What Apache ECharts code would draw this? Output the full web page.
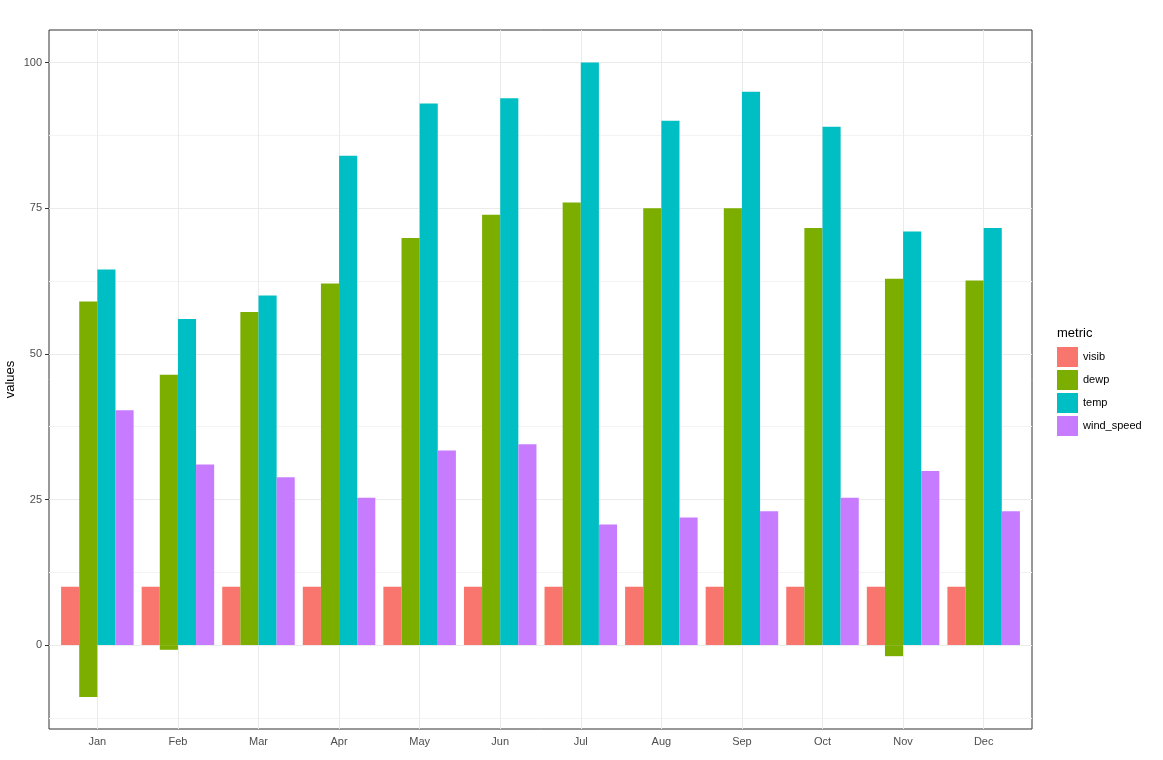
<!DOCTYPE html>
<html>
<head>
<meta charset="utf-8">
<script src="https://cdn.jsdelivr.net/npm/echarts@6/dist/echarts.min.js"></script>
<style>
  html, body { margin: 0; padding: 0; background: #fff; }
  #chart { width: 1163px; height: 760px; }
</style>
</head>
<body>
<div id="chart"></div>
<script>
// monthly weather metrics
const months = ["Jan", "Feb", "Mar", "Apr", "May", "Jun", "Jul", "Aug", "Sep", "Oct", "Nov", "Dec"];
const visib = [10, 10, 10, 10, 10, 10, 10, 10, 10, 10, 10, 10];
const dewp = [59.0, 46.4, 57.2, 62.1, 69.9, 73.9, 76.0, 75.0, 75.0, 71.6, 62.9, 62.6];
const dewpLow = [-8.9, -0.8, null, null, null, null, null, null, null, null, -1.9, null];
const temp = [64.5, 56.0, 60.0, 84.0, 93.0, 93.9, 100.0, 90.0, 95.0, 89.0, 71.0, 71.6];
const windSpeed = [40.3, 31.0, 28.8, 25.3, 33.4, 34.5, 20.7, 21.9, 23.0, 25.3, 29.9, 23.0];

const yTicks = [0, 25, 50, 75, 100];
const yGrid = [-12.5, 12.5, 37.5, 62.5, 87.5];
const yMin = -14.4;
const yMax = 105.6;

const colors = {
  visib: "#F8766D",
  dewp: "#7CAE00",
  temp: "#00BFC4",
  wind_speed: "#C77CFF",
};

const font = "Liberation Sans, Arial, sans-serif";

const chart = echarts.init(document.getElementById("chart"));

// panel is 49..1032; categories run 0.4..12.6 like ggplot's discrete expansion,
// so the first band starts 0.1 band in from the panel edge
const panel = { left: 49, top: 30, width: 983, height: 699 };
const band = panel.width / 12.2;

const gridLines = (values, color) =>
  values.map((v) => ({ yAxis: v, lineStyle: { color: color, width: 1, type: "solid" } }));

const barSeries = (name, data, stack) => ({
  name: name,
  type: "bar",
  xAxisIndex: 1,
  yAxisIndex: 1,
  data: data,
  stack: stack,
  barGap: "0%",
  barCategoryGap: "10%",
  itemStyle: { color: colors[stack || name] },
  z: 3,
});

chart.setOption({
  animation: false,
  textStyle: { fontFamily: font },
  title: {
    text: "metric",
    left: 1052,
    top: 322,
    textStyle: { fontSize: 13, fontWeight: "normal", color: "#000", fontFamily: font },
  },
  legend: {
    orient: "vertical",
    left: 1052,
    top: 342,
    itemWidth: 21,
    itemHeight: 20,
    itemGap: 3,
    icon: "rect",
    data: ["visib", "dewp", "temp", "wind_speed"],
    textStyle: { fontSize: 11, color: "#000", fontFamily: font },
  },
  grid: [
    {
      left: panel.left, top: panel.top, width: panel.width, height: panel.height,
      outerBoundsMode: "none",
      show: true, backgroundColor: "#fff", borderColor: "#333", borderWidth: 1,
    },
    {
      left: panel.left + band * 0.1, top: panel.top, width: band * 12, height: panel.height,
      outerBoundsMode: "none",
    },
  ],
  xAxis: [
    { gridIndex: 0, type: "value", min: 0, max: 1, show: false },
    {
      gridIndex: 1,
      type: "category",
      data: months,
      boundaryGap: true,
      axisLine: { show: false },
      axisTick: { alignWithLabel: true, length: 4, lineStyle: { color: "#333" } },
      axisLabel: { color: "#4d4d4d", fontSize: 11, margin: 7, fontFamily: font },
      splitLine: { show: false },
    },
  ],
  yAxis: [
    {
      gridIndex: 0,
      type: "value",
      min: yMin,
      max: yMax,
      name: "values",
      nameLocation: "middle",
      nameGap: 32,
      nameMoveOverlap: false,
      nameTextStyle: { color: "#000", fontSize: 13, fontFamily: font },
      axisLine: { show: false },
      axisTick: { show: true, length: 4, customValues: yTicks, lineStyle: { color: "#333" } },
      axisLabel: { color: "#4d4d4d", fontSize: 11, margin: 7, customValues: yTicks, fontFamily: font },
      splitLine: { show: false },
    },
    { gridIndex: 1, type: "value", min: yMin, max: yMax, show: false },
  ],
  series: [
    {
      type: "line",
      xAxisIndex: 0,
      yAxisIndex: 0,
      data: [],
      silent: true,
      markLine: {
        silent: true,
        z: 1,
        symbol: ["none", "none"],
        label: { show: false },
        data: gridLines(yGrid, "#f3f3f3").concat(gridLines(yTicks, "#ebebeb")),
      },
    },
    {
      type: "line",
      xAxisIndex: 1,
      yAxisIndex: 1,
      data: [],
      silent: true,
      markLine: {
        silent: true,
        z: 1,
        symbol: ["none", "none"],
        label: { show: false },
        lineStyle: { color: "#ebebeb", width: 1, type: "solid" },
        data: months.map((m) => ({ xAxis: m })),
      },
    },
    barSeries("visib", visib),
    barSeries("dewp", dewp, "dewp"),
    Object.assign(barSeries("dewp_low", dewpLow, "dewp"), { itemStyle: { color: colors.dewp } }),
    barSeries("temp", temp),
    barSeries("wind_speed", windSpeed),
  ],
});
</script>
</body>
</html>
